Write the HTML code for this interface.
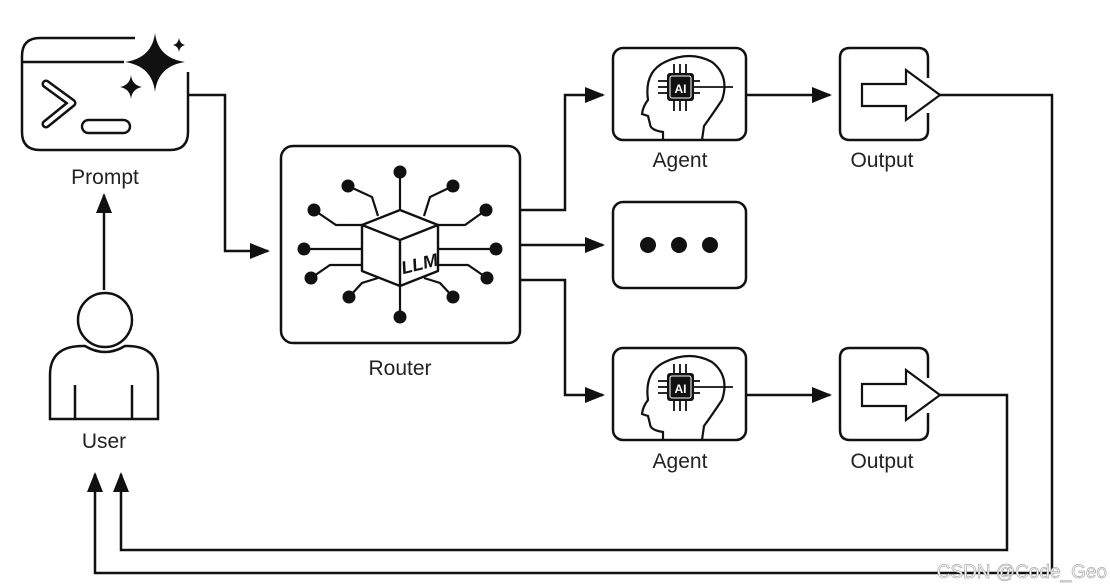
<!DOCTYPE html>
<html><head><meta charset="utf-8"><style>
html,body{margin:0;padding:0;background:#fff;}
svg{display:block;}
text{font-family:"Liberation Sans",sans-serif;font-size:21px;fill:#222;}
</style></head><body>
<svg width="1110" height="588" viewBox="0 0 1110 588" xmlns="http://www.w3.org/2000/svg">
<defs>
<marker id="ah2" viewBox="0 0 10 10" refX="9" refY="5" markerWidth="20" markerHeight="20" markerUnits="userSpaceOnUse" orient="auto"><path d="M0,1L10,5L0,9z" fill="#111"/></marker>
<g id="agent">
<rect x="613" y="48" width="133" height="92" rx="10" fill="none" stroke="#111" stroke-width="2.5"/>
<path d="M663,140 L663,132 Q650,130 650,124 L648,116 L642,114 Q643,106 648,100 Q644,72 665,62 Q690,50 712,62 Q730,76 722,100 Q712,115 704,126 L702,140" fill="none" stroke="#111" stroke-width="2.2"/>
<g stroke="#111" stroke-width="1.8">
<line x1="674" y1="64" x2="674" y2="74"/><line x1="680" y1="64" x2="680" y2="74"/><line x1="686" y1="64" x2="686" y2="74"/>
<line x1="674" y1="101" x2="674" y2="111"/><line x1="680" y1="101" x2="680" y2="111"/><line x1="686" y1="101" x2="686" y2="111"/>
<line x1="658" y1="81" x2="668" y2="81"/><line x1="658" y1="87" x2="668" y2="87"/><line x1="658" y1="93" x2="668" y2="93"/>
<line x1="692" y1="81" x2="700" y2="81"/><line x1="692" y1="93" x2="700" y2="93"/>
<line x1="692" y1="87" x2="733" y2="87"/>
</g>
<rect x="667" y="73" width="27" height="28" rx="3" fill="#111"/>
<rect x="670" y="76" width="21" height="22" rx="2" fill="none" stroke="#fff" stroke-width="1"/>
<text x="680.5" y="93" text-anchor="middle" style="font-size:12px;font-weight:bold;fill:#fff">AI</text>
</g>
<g id="output">
<path d="M928,78 L928,58 Q928,48 918,48 L850,48 Q840,48 840,58 L840,130 Q840,140 850,140 L918,140 Q928,140 928,130 L928,113" fill="none" stroke="#111" stroke-width="2.5"/>
<path d="M862,84 L906,84 L906,70 L940,95 L906,120 L906,106 L862,106 Z" fill="#fff" stroke="#111" stroke-width="2.2" stroke-linejoin="miter"/>
</g>
</defs>

<!-- Prompt -->
<path d="M135,38 L40,38 Q22,38 22,56 L22,132 Q22,150 40,150 L170,150 Q188,150 188,132 L188,72" fill="none" stroke="#111" stroke-width="2.5"/>
<line x1="22" y1="62" x2="124" y2="62" stroke="#111" stroke-width="2.5"/>
<path d="M155,33 Q158,58 185,62 Q158,66 155,92 Q152,66 125,62 Q152,58 155,33Z" fill="#111"/>
<path d="M179,38 Q180,44 185,45 Q180,46 179,52 Q178,46 173,45 Q178,44 179,38Z" fill="#111"/>
<path d="M131,75 Q132,85 142,87 Q132,89 131,99 Q130,89 120,87 Q130,85 131,75Z" fill="#111"/>
<path d="M46,84 L72,103 L46,124" fill="none" stroke="#111" stroke-width="9" stroke-linecap="round" stroke-linejoin="round"/>
<path d="M46,84 L72,103 L46,124" fill="none" stroke="#fff" stroke-width="4" stroke-linecap="round" stroke-linejoin="round"/>
<rect x="82" y="120" width="48" height="13" rx="6.5" fill="none" stroke="#111" stroke-width="2.4"/>
<text x="105" y="184" text-anchor="middle">Prompt</text>

<!-- User -->
<line x1="104" y1="290" x2="104" y2="195" stroke="#111" stroke-width="2.5" marker-end="url(#ah2)"/>
<circle cx="105" cy="320" r="27" fill="none" stroke="#111" stroke-width="2.5"/>
<path d="M50,419 L50,375 Q50,345 85,346 Q105,358 125,346 Q158,345 158,375 L158,419 Z" fill="none" stroke="#111" stroke-width="2.5"/>
<line x1="75" y1="385" x2="75" y2="419" stroke="#111" stroke-width="2.5"/>
<line x1="132" y1="385" x2="132" y2="419" stroke="#111" stroke-width="2.5"/>
<text x="104" y="448" text-anchor="middle">User</text>

<polyline points="188,95 225,95 225,251 268,251" fill="none" stroke="#111" stroke-width="2.5" marker-end="url(#ah2)"/>

<!-- Router -->
<rect x="281" y="146" width="239" height="197" rx="12" fill="none" stroke="#111" stroke-width="2.5"/>
<g stroke="#111" stroke-width="2.2" fill="none">
<line x1="400" y1="172" x2="400" y2="212"/>
<line x1="400" y1="283" x2="400" y2="316"/>
<polyline points="348,186 372,197 378,216"/>
<polyline points="453,186 430,197 424,216"/>
<polyline points="314,210 336,225 362,225"/>
<polyline points="486,210 465,225 438,225"/>
<line x1="304" y1="249" x2="362" y2="249"/>
<line x1="496" y1="249" x2="438" y2="249"/>
<polyline points="311,278 330,265 362,265"/>
<polyline points="487,278 468,265 438,265"/>
<polyline points="349,297 362,283 378,278"/>
<polyline points="453,297 440,283 424,278"/>
</g>
<g fill="#111">
<circle cx="400" cy="172" r="6.5"/><circle cx="400" cy="317" r="6.5"/>
<circle cx="348" cy="186" r="6.5"/><circle cx="453" cy="186" r="6.5"/>
<circle cx="314" cy="210" r="6.5"/><circle cx="486" cy="210" r="6.5"/>
<circle cx="304" cy="249" r="6.5"/><circle cx="496" cy="249" r="6.5"/>
<circle cx="311" cy="278" r="6.5"/><circle cx="487" cy="278" r="6.5"/>
<circle cx="349" cy="297" r="6.5"/><circle cx="453" cy="297" r="6.5"/>
</g>
<path d="M362,225 L400,210 L438,225 L438,271 L400,286 L362,271 Z" fill="#fff" stroke="#111" stroke-width="2.4" stroke-linejoin="round"/>
<path d="M362,225 L400,240 L438,225 M400,240 L400,286" fill="none" stroke="#111" stroke-width="2.4"/>
<text x="419" y="270" text-anchor="middle" transform="rotate(-14 419 262)" style="font-size:18px;font-weight:bold;font-style:italic;fill:#111">LLM</text>
<text x="400" y="375" text-anchor="middle">Router</text>

<polyline points="520,210 565,210 565,95 603,95" fill="none" stroke="#111" stroke-width="2.5" marker-end="url(#ah2)"/>
<line x1="520" y1="245" x2="603" y2="245" stroke="#111" stroke-width="2.5" marker-end="url(#ah2)"/>
<polyline points="520,280 565,280 565,395 603,395" fill="none" stroke="#111" stroke-width="2.5" marker-end="url(#ah2)"/>

<use href="#agent"/>
<use href="#agent" transform="translate(0,300)"/>
<text x="680" y="167" text-anchor="middle">Agent</text>
<text x="680" y="468" text-anchor="middle">Agent</text>

<rect x="613" y="202" width="133" height="86" rx="10" fill="none" stroke="#111" stroke-width="2.5"/>
<circle cx="648" cy="245" r="8" fill="#111"/><circle cx="679" cy="245" r="8" fill="#111"/><circle cx="710" cy="245" r="8" fill="#111"/>

<line x1="746" y1="95" x2="830" y2="95" stroke="#111" stroke-width="2.5" marker-end="url(#ah2)"/>
<line x1="746" y1="395" x2="830" y2="395" stroke="#111" stroke-width="2.5" marker-end="url(#ah2)"/>

<use href="#output"/>
<use href="#output" transform="translate(0,300)"/>
<text x="882" y="167" text-anchor="middle">Output</text>
<text x="882" y="468" text-anchor="middle">Output</text>

<polyline points="940,95 1052,95 1052,573 95,573 95,474" fill="none" stroke="#111" stroke-width="2.5" marker-end="url(#ah2)"/>
<polyline points="940,395 1007,395 1007,550 121,550 121,474" fill="none" stroke="#111" stroke-width="2.5" marker-end="url(#ah2)"/>

<text x="1107" y="578" text-anchor="end" style="font-size:19px;fill:#fff;stroke:#aaa;stroke-width:0.7">CSDN @Code_Geo</text>
</svg>
</body></html>
